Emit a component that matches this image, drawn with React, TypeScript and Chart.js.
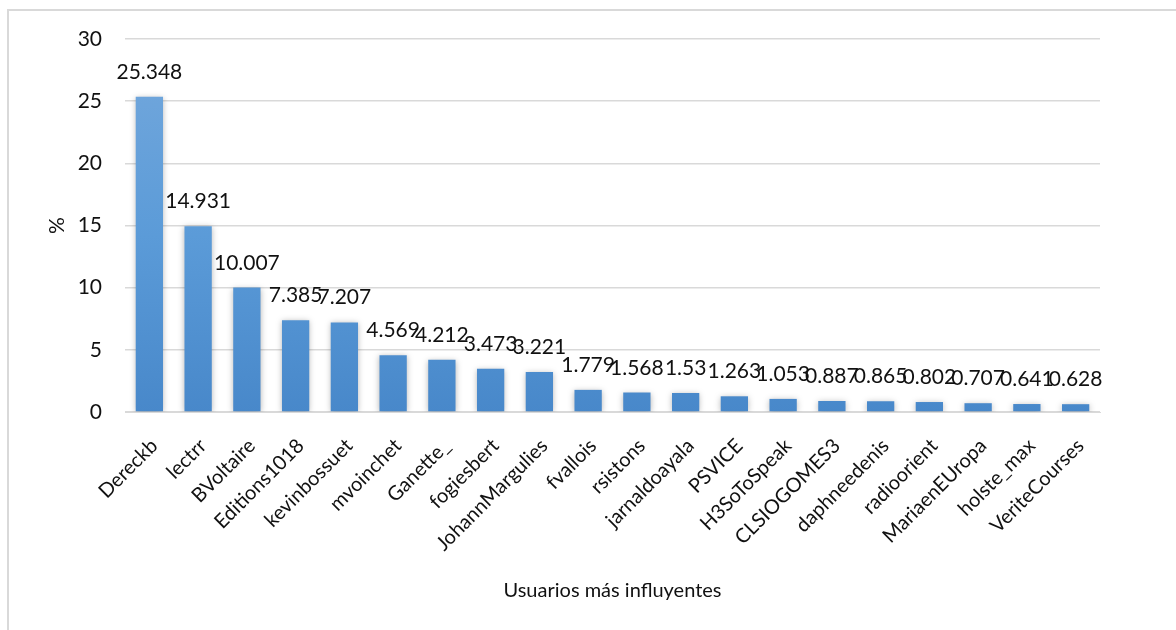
import React, { useEffect, useRef } from "react";
import { Chart, registerables } from "chart.js";

Chart.register(...registerables);

const categories = [
  "Dereckb", "lectrr", "BVoltaire", "Editions1018", "kevinbossuet", "mvoinchet",
  "Ganette_", "fogiesbert", "JohannMargulies", "fvallois", "rsistons", "jarnaldoayala",
  "PSVICE", "H3SoToSpeak", "CLSIOGOMES3", "daphneedenis", "radioorient",
  "MariaenEUropa", "holste_max", "VeriteCourses",
];
const values = [
  25.348, 14.931, 10.007, 7.385, 7.207, 4.569, 4.212, 3.473, 3.221, 1.779,
  1.568, 1.53, 1.263, 1.053, 0.887, 0.865, 0.802, 0.707, 0.641, 0.628,
];
const yTitle = "%";
const xTitle = "Usuarios más influyentes";

const FONT = "Lato, 'Open Sans', sans-serif";

const shadowPlugin = {
  id: "barShadow",
  beforeDatasetsDraw(chart: any) {
    const ctx = chart.ctx;
    ctx.save();
    ctx.shadowColor = "rgba(0,0,0,0.28)";
    ctx.shadowBlur = 6;
    ctx.shadowOffsetX = 0;
    ctx.shadowOffsetY = 1;
  },
  afterDatasetsDraw(chart: any) {
    chart.ctx.restore();
  },
};

const labelPlugin = {
  id: "valueLabels",
  afterDatasetsDraw(chart: any) {
    const ctx = chart.ctx;
    const meta = chart.getDatasetMeta(0);
    ctx.save();
    ctx.font = `21px ${FONT}`;
    ctx.fillStyle = "#111";
    ctx.textAlign = "center";
    ctx.textBaseline = "alphabetic";
    meta.data.forEach((bar: any, i: number) => {
      ctx.fillText(String(values[i]), bar.x, bar.y - 18);
    });
    ctx.restore();
  },
};

export default function App() {
  const ref = useRef<HTMLCanvasElement>(null);
  useEffect(() => {
    const canvas = ref.current!;
    const ctx = canvas.getContext("2d")!;
    const grad = ctx.createLinearGradient(0, 60, 0, 412);
    grad.addColorStop(0, "#72a7dc");
    grad.addColorStop(0.5, "#5b9bd8");
    grad.addColorStop(1, "#4888ca");
    const chart = new Chart(canvas, {
      type: "bar",
      data: {
        labels: categories,
        datasets: [
          {
            data: values,
            backgroundColor: grad,
            borderWidth: 0,
            categoryPercentage: 1,
            barPercentage: 0.56,
          },
        ],
      },
      options: {
        responsive: false,
        animation: false,
        layout: { padding: { left: 38, top: 39, right: 76, bottom: 20 } },
        plugins: { legend: { display: false }, tooltip: { enabled: false } },
        scales: {
          x: {
            grid: { display: false },
            border: { display: true, color: "#d9d9d9", width: 1 },
            ticks: {
              color: "#111",
              font: { family: FONT, size: 20 },
              minRotation: 45,
              maxRotation: 45,
              autoSkip: false,
              padding: 14,
              labelOffset: 5,
            },
            title: {
              display: true,
              text: xTitle,
              color: "#111",
              font: { family: FONT, size: 20 },
              padding: 7,
            },
            afterFit: (axis: any) => {
              axis.height = 198;
            },
          },
          y: {
            min: 0,
            max: 30,
            ticks: {
              stepSize: 5,
              color: "#111",
              font: { family: FONT, size: 21 },
              padding: 23,
            },
            grid: { color: "#d9d9d9", lineWidth: 1.5, drawTicks: false },
            border: { display: false },
            title: {
              display: true,
              text: yTitle,
              color: "#111",
              font: { family: FONT, size: 21 },
              padding: 7,
            },
            afterFit: (axis: any) => {
              axis.width = 87;
            },
          },
        },
      },
      plugins: [shadowPlugin, labelPlugin],
    });
    return () => chart.destroy();
  }, []);

  return (
    <div style={{ position: "fixed", left: 0, top: 0, width: 1176, height: 630, overflow: "hidden", background: "#fff" }}>
      <div
        style={{
          position: "absolute",
          left: 7,
          top: 9,
          width: 1300,
          height: 800,
          border: "2px solid #d9d9d9",
        }}
      />
      <canvas ref={ref} width={1176} height={630} style={{ position: "absolute", left: 0, top: 0 }} />
    </div>
  );
}
